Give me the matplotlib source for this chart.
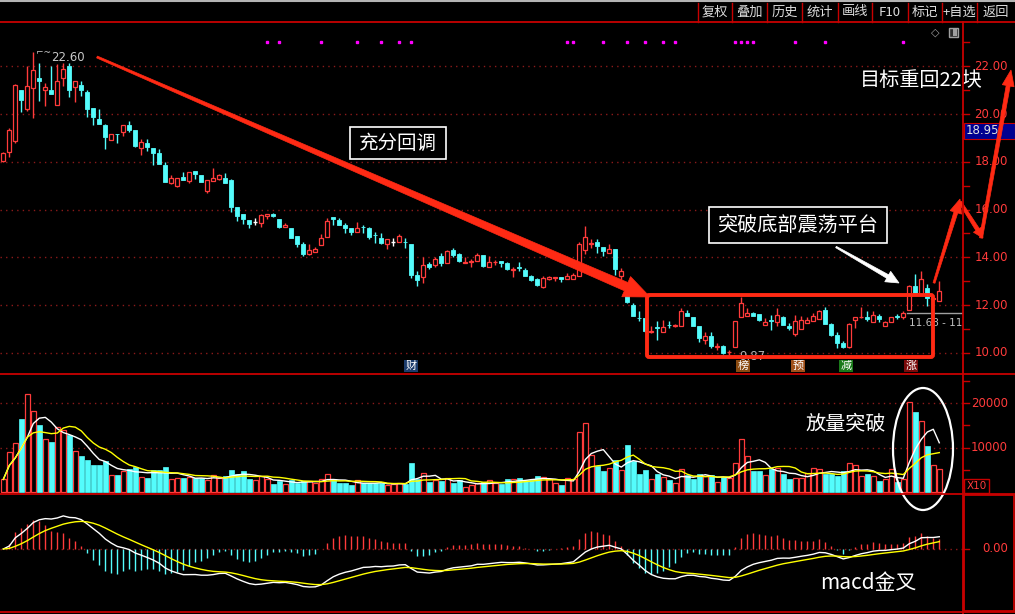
import numpy as np
import pandas as pd
import matplotlib
matplotlib.use("Agg")
import matplotlib.pyplot as plt
from matplotlib.patches import Rectangle, Polygon, Ellipse, FancyBboxPatch
from matplotlib.lines import Line2D
from matplotlib.transforms import Affine2D

plt.rcParams['font.family'] = ['Noto Sans CJK SC', 'DejaVu Sans']

# daily candles
opens = [18.03, 18.40, 18.86, 21.02, 20.19, 21.09, 21.51, 21.00, 21.02, 20.37,
         21.50, 21.99, 21.12, 21.23, 20.94, 20.26, 19.81, 19.52, 18.90, 19.18,
         19.24, 19.55, 19.35, 18.59, 18.80, 18.56, 18.38, 17.85, 17.10, 16.98,
         17.37, 17.19, 17.62, 17.43, 16.77, 17.19, 17.30, 17.33, 17.25, 16.10,
         15.82, 15.56, 15.50, 15.45, 15.73, 15.82, 15.59, 15.28, 15.25, 14.89,
         14.54, 14.15, 14.23, 14.50, 14.86, 15.68, 15.56, 15.35, 15.25, 15.07,
         15.29, 15.21, 14.95, 14.83, 14.58, 14.65, 14.65, 14.66, 14.58, 13.26,
         13.19, 13.72, 13.68, 14.06, 13.78, 14.31, 14.14, 13.75, 13.82, 13.86,
         14.10, 13.61, 13.80, 13.86, 13.75, 13.47, 13.59, 13.47, 13.22, 13.10,
         12.75, 13.10, 13.14, 13.17, 13.08, 13.11, 13.24, 14.31, 14.56, 14.65,
         14.42, 14.19, 14.35, 13.24, 12.71, 12.01, 11.48, 11.45, 10.88, 11.07,
         10.86, 11.19, 11.11, 11.11, 11.67, 11.50, 11.14, 10.53, 10.69, 10.26,
         10.28, 10.02, 10.25, 11.50, 11.53, 11.67, 11.63, 11.18, 11.37, 11.28,
         11.50, 11.14, 10.79, 11.00, 11.25, 11.32, 11.42, 11.80, 11.22, 10.76,
         10.42, 10.25, 11.39, 11.49, 11.50, 11.28, 11.56, 11.14, 11.31, 11.56,
         11.49, 11.81, 12.81, 12.47, 12.71, 12.25, 12.19]
highs = [18.40, 19.42, 21.25, 21.02, 22.00, 22.60, 22.14, 21.30, 22.00, 22.10,
         22.14, 22.14, 21.40, 21.40, 21.02, 20.26, 20.22, 19.60, 19.17, 19.18,
         19.55, 19.70, 19.35, 18.96, 18.96, 18.56, 18.54, 18.00, 17.43, 17.33,
         17.57, 17.57, 17.62, 17.45, 17.22, 17.75, 17.50, 17.53, 17.28, 16.10,
         15.82, 15.56, 15.63, 15.82, 15.80, 15.87, 15.59, 15.44, 15.25, 14.89,
         14.63, 14.58, 14.44, 14.97, 15.63, 15.70, 15.63, 15.42, 15.25, 15.49,
         15.35, 15.28, 15.07, 15.03, 14.79, 14.83, 14.97, 14.83, 14.58, 13.44,
         14.00, 13.82, 14.00, 14.17, 14.31, 14.40, 14.20, 14.00, 13.92, 14.17,
         14.10, 14.06, 13.90, 13.86, 13.82, 13.58, 13.82, 13.54, 13.28, 13.15,
         13.22, 13.24, 13.20, 13.17, 13.33, 13.36, 14.65, 15.31, 14.75, 14.75,
         14.42, 14.56, 14.35, 13.54, 12.90, 12.11, 11.74, 11.48, 11.11, 11.32,
         11.36, 11.32, 11.20, 11.88, 11.80, 11.50, 11.14, 10.86, 10.86, 10.42,
         10.35, 10.14, 11.32, 12.36, 11.88, 11.72, 11.63, 11.46, 11.60, 11.88,
         11.53, 11.25, 11.60, 11.53, 11.50, 11.67, 11.78, 11.94, 11.25, 10.86,
         10.49, 11.25, 11.50, 11.94, 11.74, 11.74, 11.64, 11.32, 11.52, 11.64,
         11.74, 12.85, 13.31, 13.44, 12.89, 12.43, 13.03]
lows = [18.00, 18.20, 18.80, 20.08, 20.12, 19.84, 20.54, 20.33, 20.84, 20.37,
        21.19, 20.70, 20.50, 20.75, 19.88, 19.56, 19.60, 18.52, 18.90, 18.80,
        19.10, 19.24, 18.64, 18.30, 18.45, 17.86, 17.90, 17.15, 17.08, 16.94,
        17.22, 17.10, 17.26, 17.15, 16.70, 17.19, 17.23, 17.12, 15.92, 15.54,
        15.40, 15.24, 15.37, 15.28, 15.62, 15.70, 15.25, 15.28, 14.82, 14.44,
        14.04, 14.08, 14.23, 14.50, 14.86, 15.35, 15.35, 15.03, 14.93, 15.07,
        15.03, 14.79, 14.61, 14.56, 14.33, 14.47, 14.65, 14.38, 13.15, 12.81,
        12.94, 13.50, 13.61, 13.64, 13.78, 14.03, 13.82, 13.75, 13.61, 13.86,
        13.60, 13.61, 13.68, 13.58, 13.47, 13.19, 13.44, 13.22, 13.03, 12.81,
        12.71, 13.06, 13.00, 12.99, 13.08, 13.11, 13.24, 14.14, 14.38, 14.17,
        14.06, 14.19, 13.26, 13.05, 12.10, 11.53, 11.32, 10.88, 10.83, 10.56,
        10.86, 11.04, 11.10, 11.11, 11.53, 11.12, 10.44, 10.39, 10.21, 10.14,
        9.97, 9.87, 10.24, 11.50, 11.53, 11.56, 11.34, 11.18, 10.97, 11.14,
        11.15, 10.97, 10.69, 11.00, 11.25, 11.32, 11.42, 11.22, 10.70, 10.21,
        10.21, 10.22, 11.04, 11.45, 11.32, 11.28, 11.28, 11.12, 11.31, 11.42,
        11.42, 11.80, 12.50, 12.47, 11.97, 12.22, 12.19]
closes = [18.35, 19.31, 21.22, 20.58, 21.18, 21.86, 21.37, 21.14, 20.84, 21.40,
          21.90, 21.02, 21.40, 21.00, 20.19, 19.87, 19.60, 19.03, 19.17, 19.16,
          19.55, 19.35, 18.68, 18.84, 18.61, 18.35, 17.90, 17.15, 17.33, 17.33,
          17.22, 17.57, 17.47, 17.15, 17.22, 17.33, 17.43, 17.12, 16.10, 15.75,
          15.60, 15.39, 15.50, 15.76, 15.80, 15.73, 15.28, 15.34, 14.82, 14.55,
          14.13, 14.30, 14.34, 14.80, 15.52, 15.60, 15.35, 15.21, 15.07, 15.25,
          15.27, 14.86, 14.93, 14.61, 14.79, 14.65, 14.89, 14.64, 13.26, 13.05,
          13.67, 13.58, 13.92, 13.78, 14.26, 14.10, 13.86, 13.82, 13.86, 14.10,
          13.64, 13.82, 13.82, 13.78, 13.50, 13.51, 13.57, 13.22, 13.05, 12.85,
          13.12, 13.17, 13.16, 13.08, 13.24, 13.26, 14.58, 14.86, 14.60, 14.47,
          14.26, 14.33, 13.51, 13.44, 12.15, 11.53, 11.46, 10.90, 10.90, 11.05,
          11.08, 11.17, 11.18, 11.76, 11.56, 11.14, 10.63, 10.69, 10.28, 10.28,
          10.00, 10.05, 11.32, 12.11, 11.67, 11.56, 11.36, 11.29, 11.35, 11.57,
          11.18, 11.04, 11.32, 11.39, 11.39, 11.53, 11.76, 11.22, 10.74, 10.42,
          10.24, 11.22, 11.49, 11.51, 11.42, 11.60, 11.42, 11.29, 11.50, 11.49,
          11.67, 12.82, 12.53, 13.08, 12.32, 12.28, 12.58]
volumes = [2840, 9100, 11100, 16500, 22100, 18300, 15150, 12000, 11200, 14550,
           14030, 12900, 9330, 8000, 7300, 5970, 5970, 7090, 3730, 3730,
           4630, 5070, 5600, 3280, 3060, 4850, 4850, 5520, 2840, 3210,
           3060, 3360, 3060, 3060, 2610, 3880, 3060, 3500, 4850, 3960,
           4630, 2840, 2610, 3500, 2840, 1720, 2460, 1720, 2610, 2090,
           2460, 2460, 2090, 2840, 4100, 2610, 1940, 1940, 1490, 2610,
           1940, 1940, 1940, 2090, 1490, 1720, 2090, 1720, 6640, 2990,
           4330, 2160, 2610, 2460, 3210, 1940, 2610, 1190, 1490, 1940,
           2310, 2610, 1940, 1720, 2840, 2840, 3060, 2610, 2610, 3500,
           3430, 2840, 2090, 1490, 3210, 2840, 13500, 15520, 8280, 5820,
           4630, 5450, 7310, 4850, 10670, 7090, 4100, 4850, 2840, 4100,
           3430, 2610, 2090, 5220, 3730, 2990, 3960, 3580, 3730, 2310,
           3430, 3060, 6570, 12010, 8210, 4700, 4700, 3730, 5220, 5450,
           3960, 2840, 3210, 3060, 4180, 5450, 5220, 4100, 4100, 3580,
           4700, 6570, 6190, 3580, 3960, 3580, 2460, 2840, 5070, 2240,
           2840, 20300, 17910, 16040, 10450, 5970, 5070]

price_ticks = [10, 12, 14, 16, 18, 20, 22]
vol_ticks = [10000, 20000]
signal_days = [44, 46, 53, 59, 63, 66, 68, 94, 95, 100, 104, 107, 110, 112,
               122, 123, 124, 125, 132, 137, 150]
toolbar = ['复权', '叠加', '历史', '统计', '画线', 'F10', '标记', '+自选', '返回']

RED = '#ff3b3b'
CYAN = '#54fcfc'
FRAME = '#c80000'
GRID = '#8c1a1a'
W, H = 1015, 614

fig = plt.figure(figsize=(W / 100, H / 100), dpi=100, facecolor='black')
PX = Affine2D().scale(1 / W, -1 / H).translate(0, 1) + fig.transFigure


def panel(y0, y1):
    a = fig.add_axes([0, 1 - y1 / H, 963 / W, (y1 - y0) / H])
    a.set_facecolor('black')
    for s in a.spines.values():
        s.set_visible(False)
    a.set_xticks([])
    a.set_yticks([])
    a.set_xlim(-0.55, 159.95)
    return a


def right_labels(a, ticks, labels, minor):
    tr = a.get_yaxis_transform()
    for t in minor:
        a.plot([1, 1.006], [t, t], color=FRAME, lw=1, transform=tr, clip_on=False)
    for t, s in zip(ticks, labels):
        a.text(1.0467, t, s, transform=tr, ha='right', va='center', color=RED,
               fontsize=8.5, family='DejaVu Sans', clip_on=False)


def taper_arrow(p0, p1, w0, w1, hl, hw, color, z=20):
    p0 = np.array(p0, float)
    p1 = np.array(p1, float)
    d = p1 - p0
    u = d / np.hypot(*d)
    n = np.array([-u[1], u[0]])
    b = p1 - u * hl
    pts = [p0 + n * w0 / 2, b + n * w1 / 2, b + n * hw, p1, b - n * hw,
           b - n * w1 / 2, p0 - n * w0 / 2]
    fig.add_artist(Polygon(pts, closed=True, transform=PX, fc=color, ec=color,
                           lw=0.5, zorder=z))


def boxed_text(x0, y0, x1, y1, s, size):
    fig.add_artist(Rectangle((x0, y0), x1 - x0, y1 - y0, transform=PX, fc='black',
                             ec='white', lw=1.2, zorder=21))
    fig.text((x0 + x1) / 2, (y0 + y1) / 2, s, transform=PX, ha='center', va='center',
             color='white', fontsize=size, zorder=22)


o = np.array(opens)
h = np.array(highs)
l = np.array(lows)
c = np.array(closes)
v = np.array(volumes, float)
x = np.arange(len(c))
up = c > o
down = c < o
flat = c == o

# ---- price panel
ax = panel(22, 374)
ax.set_ylim(9.12, 23.85)
for p in price_ticks:
    ax.axhline(p, color=GRID, lw=1, ls=(0, (1, 3)), zorder=1)
body_top = np.maximum(o, c)
body_bot = np.minimum(o, c)
col = np.where(up, RED, np.where(down, CYAN, 'white'))
ax.vlines(x, l, body_bot, colors=col, lw=1, zorder=3)
ax.vlines(x, body_top, h, colors=col, lw=1, zorder=3)
ax.bar(x[up], (c - o)[up], bottom=o[up], width=0.72, fc='black', ec=RED, lw=0.9, zorder=4)
ax.bar(x[down], (o - c)[down], bottom=c[down], width=0.72, fc=CYAN, ec=CYAN, lw=0.6, zorder=4)
ax.hlines(c[flat], x[flat] - 0.36, x[flat] + 0.36, colors='white', lw=1, zorder=4)
ax.plot(signal_days, [23.0] * len(signal_days), 's', ms=1.8, color='#ff00ff', zorder=3)
right_labels(ax, price_ticks, [f'{p:.2f}' for p in price_ticks], range(10, 24))

# high / low tags
ax.text(48 / 6, 22.36, '22.60', color='#c8c8c8', fontsize=8.5, va='center',
        family='DejaVu Sans', zorder=5)
ax.text(33 / 6, 22.58, '⌐~', color='#c8c8c8', fontsize=6.5, va='center',
        family='DejaVu Sans', zorder=5)
ax.text(122.6, 9.87, '9.87', color='#b0b0b0', fontsize=8.5, va='center',
        family='DejaVu Sans', zorder=5)
ax.plot([150.6, 160], [11.68, 11.68], color='#a0a0a0', lw=1, zorder=5)
ax.text(151.0, 11.25, '11.68 - 11.68', color='#c0c0c0', fontsize=7.5, va='center',
        family='DejaVu Sans', zorder=5, clip_on=True)

# ---- volume panel
axv = panel(374, 494)
axv.set_ylim(-450, 26580)
for t in vol_ticks:
    axv.axhline(t, color=GRID, lw=1, ls=(0, (1, 3)), zorder=1)
axv.bar(x[~down], v[~down], width=0.78, fc='black', ec=RED, lw=0.9, zorder=3)
axv.bar(x[down], v[down], width=0.78, fc=CYAN, ec=CYAN, lw=0.5, zorder=3)
vs = pd.Series(v)
axv.plot(x, vs.rolling(5, min_periods=1).mean(), color='white', lw=1, zorder=4)
axv.plot(x, vs.rolling(10, min_periods=1).mean(), color='#ffff00', lw=1, zorder=4)
right_labels(axv, vol_ticks, ['10000', '20000'], [5000, 10000, 15000, 20000, 25000])

# ---- macd panel
axm = panel(494, 612)
cs = pd.Series(c)
dif = cs.ewm(span=12, adjust=False).mean() - cs.ewm(span=26, adjust=False).mean()
dea = dif.ewm(span=9, adjust=False).mean()
hist = 2 * (dif - dea)
ppu = 38 / abs(min(dif.min(), dea.min()))
axm.set_ylim(-63 / ppu, 55 / ppu)
axm.axhline(0, color=GRID, lw=1, ls=(0, (1, 3)), zorder=1)
axm.vlines(x, 0, hist, colors=np.where(hist >= 0, RED, CYAN), lw=1, zorder=2)
axm.plot(x, dif, color='white', lw=1, zorder=3)
axm.plot(x, dea, color='#ffff00', lw=1, zorder=3)
right_labels(axm, [0], ['0.00'], [0])

# ---- frame lines and toolbar
def fline(xs, ys, color=FRAME, lw=1.3, z=30):
    fig.add_artist(Line2D(xs, ys, transform=PX, color=color, lw=lw, zorder=z))

fline([0, W], [1, 1], color='#b4b4b4', lw=1.5)
for yy in (22, 374, 494, 612):
    fline([0, W], [yy, yy])
fline([963, 963], [22, H])
seps = [698, 732, 767, 802, 838, 872, 908, 942, 977]
for sx in seps:
    fline([sx, sx], [3, 22], lw=1)
edges = seps + [W]
for i, s in enumerate(toolbar):
    fig.text((edges[i] + edges[i + 1]) / 2, 12, s, transform=PX, ha='center',
             va='center', color='#dcdcdc', fontsize=9.5)
fig.add_artist(Rectangle((964, 495), 50, 116, transform=PX, fc='none', ec=FRAME, lw=1.3))
fig.add_artist(Rectangle((964, 479), 25, 14, transform=PX, fc='none', ec=FRAME, lw=1))
fig.text(976.5, 486, 'X10', transform=PX, ha='center', va='center', color=RED,
         fontsize=7.5, family='DejaVu Sans')
fig.add_artist(Rectangle((964, 123), 51, 16, transform=PX, fc='#000090', ec=FRAME, lw=0.8))
fig.text(966, 131, '18.95', transform=PX, ha='left', va='center', color='#e0e0e0',
         fontsize=8.5, family='DejaVu Sans')
fig.text(935, 33, '◇', transform=PX, ha='center', va='center', color='#a0a0a0',
         fontsize=8, family='DejaVu Sans')
fig.add_artist(Rectangle((949, 28), 9, 9, transform=PX, fc='#303030', ec='#a0a0a0', lw=1))
fig.add_artist(Rectangle((953, 29), 4, 7, transform=PX, fc='#a0a0a0', ec='none'))

# event tags under the candles
for tx, s, bg in [(411, '财', '#1c3c6c'), (743, '榜', '#8a4a10'), (798, '预', '#a0501a'),
                  (846, '减', '#1a7a1a'), (911, '涨', '#7a0a0a')]:
    fig.text(tx, 366, s, transform=PX, ha='center', va='center', color='white',
             fontsize=8, bbox=dict(boxstyle='square,pad=0.1', fc=bg, ec='none'))

# ---- annotations
taper_arrow((97, 57), (650, 297), 2, 9, 26, 11, '#ff2a14')
boxed_text(350, 127, 446, 159, '充分回调', 14)
fig.add_artist(FancyBboxPatch((647, 295), 286, 62, boxstyle='round,pad=0,rounding_size=2',
                              transform=PX, fc='none', ec='#ff2a14', lw=2.8, zorder=19))
boxed_text(709, 207, 887, 243, '突破底部震荡平台', 14.5)
taper_arrow((836, 247), (899, 283), 1.5, 4, 13, 6, 'white')
taper_arrow((934, 283), (960, 199), 2, 4, 14, 6, '#ff2a14')
taper_arrow((960, 202), (983, 238), 3, 4, 10, 5, '#ff2a14')
taper_arrow((981, 238), (1011, 70), 3, 4, 16, 6, '#ff2a14')
fig.text(921, 81, '目标重回22块', transform=PX, ha='center', va='center', color='white',
         fontsize=14.5, zorder=22)
fig.text(846, 424, '放量突破', transform=PX, ha='center', va='center', color='white',
         fontsize=14.5, zorder=22)
fig.add_artist(Ellipse((923, 449), 60, 122, transform=PX, fc='none', ec='white', lw=1.6,
                       zorder=22))
fig.text(868, 583, 'macd金叉', transform=PX, ha='center', va='center', color='white',
         fontsize=15, zorder=22)

fig.savefig('out.png', dpi=100, facecolor='black')
